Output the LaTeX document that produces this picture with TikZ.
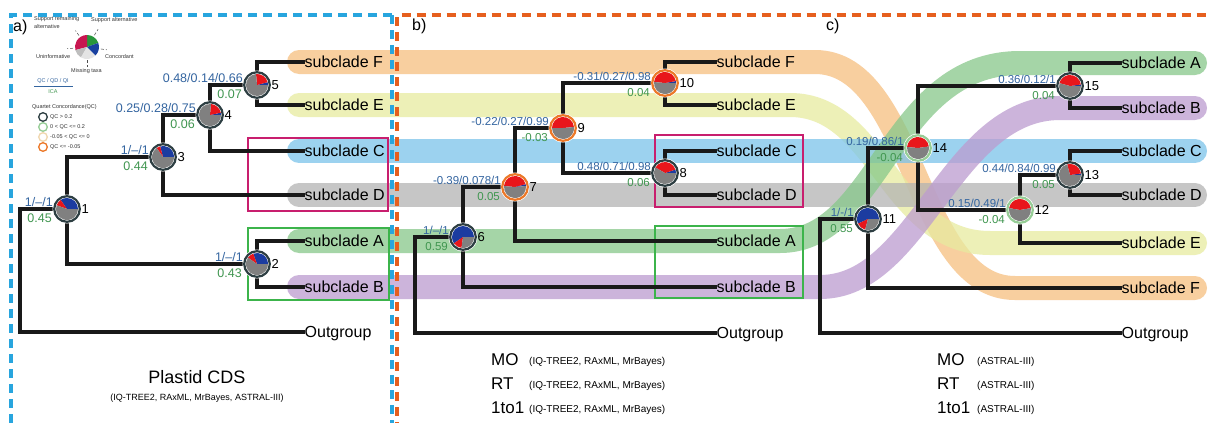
\documentclass[tikz,border=0pt]{standalone}
\usepackage{fontspec}
\setmainfont{Liberation Sans}
\definecolor{bandF}{RGB}{246,191,128}
\definecolor{bandE}{RGB}{231,235,160}
\definecolor{bandC}{RGB}{124,196,234}
\definecolor{bandD}{RGB}{179,179,179}
\definecolor{bandA}{RGB}{135,200,138}
\definecolor{bandB}{RGB}{188,156,207}
\definecolor{lblue}{RGB}{52,101,160}
\definecolor{lgreen}{RGB}{64,150,80}
\definecolor{pred}{RGB}{232,22,27}
\definecolor{pblue}{RGB}{28,60,160}
\definecolor{pgray}{RGB}{128,128,128}
\definecolor{ringdark}{RGB}{45,62,66}
\definecolor{ringgreen}{RGB}{150,205,150}
\definecolor{ringbeige}{RGB}{240,215,175}
\definecolor{ringorange}{RGB}{236,120,40}
\definecolor{boxmag}{RGB}{200,30,110}
\definecolor{boxgreen}{RGB}{60,180,75}
\definecolor{dashblue}{RGB}{40,165,222}
\definecolor{dashorange}{RGB}{230,95,30}
\definecolor{lgcrimson}{RGB}{200,22,80}
\definecolor{lggreen}{RGB}{40,150,60}
\definecolor{lgblue}{RGB}{25,65,160}
\definecolor{lggray}{RGB}{190,190,190}
\definecolor{lglight}{RGB}{228,228,228}
\tikzset{
  br/.style={line width=4pt, line cap=rect, draw=black!90},
  band/.style={line width=24pt, line cap=round, draw opacity=0.75},
  leafnode/.style={anchor=west, inner sep=1.5pt, font=\fontsize{16}{18}\selectfont, text height=11pt, text depth=0pt},
  bdash/.style={line width=3.5pt, dash pattern=on 9pt off 6pt},
  cbox/.style={line width=1.5pt},
  lg/.style={inner sep=0pt, font=\fontsize{5.5}{6}\selectfont, text=black!80},
  lead/.style={densely dashed, line width=0.5pt, draw=black!70},
  bigtxt/.style={anchor=base west, inner sep=0pt, font=\fontsize{17}{19}\selectfont},
  smalltxt/.style={anchor=base west, inner sep=0pt, font=\fontsize{10}{12}\selectfont},
  plab/.style={anchor=west, inner sep=0pt, font=\fontsize{16}{18}\selectfont}
}
\newcommand{\mypie}[3]{%
  \fill[white] (#1) circle (14.5pt);
  \foreach \pa/\pb/\pc in {#3} {\fill[\pc] (#1) -- ++(\pa:11pt) arc[start angle=\pa, end angle=\pb, radius=11pt] -- cycle;}
  \draw[#2, line width=2.2pt] (#1) circle (12.8pt);
}
\newcommand{\nlab}[5]{%
  \node[anchor=base east, text=lblue, font=\fontsize{#5}{#5}\selectfont, inner sep=0pt] (#1b) at ([xshift=-14pt,yshift=3pt]#1) {#2};
  \node[anchor=base east, text=lgreen, font=\fontsize{#5}{#5}\selectfont, inner sep=0pt] (#1g) at ([xshift=-15pt,yshift=-13pt]#1) {#3};
  \node[anchor=west, font=\fontsize{13}{13}\selectfont, inner sep=0pt] (#1n) at ([xshift=14.5pt]#1) {#4};
}
\begin{document}
\begin{tikzpicture}[x=1pt,y=-1pt]
\useasboundingbox (0,0) rectangle (1208,423);
\fill[white] (0,0) rectangle (1208,423);

% ---------- bands ----------
\draw[band, draw=bandF] (299,62) -- (815,62) .. controls (915,62) and (915,288) .. (1015,288) -- (1195,288);
\draw[band, draw=bandE] (299,105) -- (790,105) .. controls (880,105) and (890,243) .. (990,243) -- (1195,243);
\draw[band, draw=bandC] (299,151) -- (1195,151);
\draw[band, draw=bandD] (299,195) -- (1195,195);
\draw[band, draw=bandA] (299,241) -- (780,241) .. controls (880,241) and (890,63) .. (1020,63) -- (1195,63);
\draw[band, draw=bandB] (299,287) -- (820,287) .. controls (920,287) and (950,108) .. (1060,108) -- (1195,108);

% ---------- boxes ----------
\draw[cbox, boxmag] (248,138) rectangle (388,211);
\draw[cbox, boxgreen] (248,228) rectangle (389,300);
\draw[cbox, boxmag] (655,135) rectangle (803,207);
\draw[cbox, boxgreen] (655,226) rectangle (803,298);

% ---------- dashed panel borders ----------
\draw[bdash, dashblue] (392,15) -- (11,15) -- (11,423);
\draw[bdash, dashblue] (392,15) -- (392,423);
\draw[bdash, dashorange, dash phase=7.5pt] (397,423) -- (397,15) -- (1208,15);

% ---------- panel a tree ----------
\coordinate (ra) at (20,209);
\coordinate (n1) at (67,209);
\coordinate (n2) at (257,264);
\coordinate (n3) at (163,157);
\coordinate (n4) at (210,115);
\coordinate (n5) at (257,85);
\node[leafnode] (aF) at (303,62) {subclade F};
\node[leafnode] (aE) at (303,105) {subclade E};
\node[leafnode] (aC) at (303,151) {subclade C};
\node[leafnode] (aD) at (303,195) {subclade D};
\node[leafnode] (aA) at (303,241) {subclade A};
\node[leafnode] (aB) at (303,287) {subclade B};
\node[leafnode] (aO) at (303,332) {Outgroup};
\draw[br] (ra) -- (n1);
\draw[br] (ra) |- (aO.west);
\draw[br] (n1) |- (n3);
\draw[br] (n1) |- (n2);
\draw[br] (n3) |- (n4);
\draw[br] (n3) |- (aD.west);
\draw[br] (n4) |- (n5);
\draw[br] (n4) |- (aC.west);
\draw[br] (n5) |- (aF.west);
\draw[br] (n5) |- (aE.west);
\draw[br] (n2) |- (aA.west);
\draw[br] (n2) |- (aB.west);

% ---------- panel b tree ----------
\coordinate (rb) at (415,237);
\coordinate (n6) at (463,237);
\coordinate (n7) at (515,187);
\coordinate (n9) at (563,128);
\coordinate (n10) at (665,83);
\coordinate (n8) at (665,173);
\node[leafnode] (bF) at (715,62) {subclade F};
\node[leafnode] (bE) at (715,105) {subclade E};
\node[leafnode] (bC) at (715,151) {subclade C};
\node[leafnode] (bD) at (715,195) {subclade D};
\node[leafnode] (bA) at (715,241) {subclade A};
\node[leafnode] (bB) at (715,287) {subclade B};
\node[leafnode] (bO) at (715,333) {Outgroup};
\draw[br] (rb) -- (n6);
\draw[br] (rb) |- (bO.west);
\draw[br] (n6) |- (n7);
\draw[br] (n6) |- (bB.west);
\draw[br] (n7) |- (n9);
\draw[br] (n7) |- (bA.west);
\draw[br] (n9) |- (n10);
\draw[br] (n9) |- (n8);
\draw[br] (n10) |- (bF.west);
\draw[br] (n10) |- (bE.west);
\draw[br] (n8) |- (bC.west);
\draw[br] (n8) |- (bD.west);

% ---------- panel c tree ----------
\coordinate (rc) at (820,219);
\coordinate (n11) at (868,219);
\coordinate (n14) at (918,148);
\coordinate (n15) at (1070,86);
\coordinate (n12) at (1020,210);
\coordinate (n13) at (1070,175);
\node[leafnode] (cA) at (1120,63) {subclade A};
\node[leafnode] (cB) at (1120,108) {subclade B};
\node[leafnode] (cC) at (1120,151) {subclade C};
\node[leafnode] (cD) at (1120,195) {subclade D};
\node[leafnode] (cE) at (1120,243) {subclade E};
\node[leafnode] (cF) at (1120,288) {subclade F};
\node[leafnode] (cO) at (1120,333) {Outgroup};
\draw[br] (rc) -- (n11);
\draw[br] (rc) |- (cO.west);
\draw[br] (n11) |- (n14);
\draw[br] (n11) |- (cF.west);
\draw[br] (n14) |- (n15);
\draw[br] (n14) |- (n12);
\draw[br] (n15) |- (cA.west);
\draw[br] (n15) |- (cB.west);
\draw[br] (n12) |- (n13);
\draw[br] (n12) |- (cE.west);
\draw[br] (n13) |- (cC.west);
\draw[br] (n13) |- (cD.west);

% ---------- pies ----------
\mypie{n1}{ringdark}{0/125/pblue, 125/160/pred, 160/360/pgray}
\mypie{n2}{ringdark}{0/110/pblue, 110/145/pred, 145/360/pgray}
\mypie{n3}{ringdark}{0/105/pblue, 105/125/pred, 125/360/pgray}
\mypie{n4}{ringdark}{0/12/pblue, 12/85/pred, 85/360/pgray}
\mypie{n5}{ringdark}{0/15/pblue, 15/95/pred, 95/360/pgray}
\mypie{n6}{ringdark}{0/215/pblue, 215/262/pred, 262/360/pgray}
\mypie{n7}{ringorange}{5/15/pblue, 15/175/pred, 175/365/pgray}
\mypie{n8}{ringdark}{0/18/pblue, 18/150/pred, 150/360/pgray}
\mypie{n9}{ringorange}{5/180/pred, 180/365/pgray}
\mypie{n10}{ringorange}{0/10/pblue, 10/175/pred, 175/360/pgray}
\mypie{n11}{ringdark}{0/205/pblue, 205/255/pred, 255/360/pgray}
\mypie{n12}{ringgreen}{10/170/pred, 170/370/pgray}
\mypie{n13}{ringdark}{0/8/pblue, 8/105/pred, 105/360/pgray}
\mypie{n14}{ringgreen}{8/175/pred, 175/368/pgray}
\mypie{n15}{ringdark}{0/8/pblue, 8/165/pred, 165/360/pgray}

% ---------- node labels ----------
\nlab{n1}{1/–/1}{0.45}{1}{12.5}
\nlab{n2}{1/–/1}{0.43}{2}{12.5}
\nlab{n3}{1/–/1}{0.44}{3}{12.5}
\nlab{n4}{0.25/0.28/0.75}{0.06}{4}{12.5}
\nlab{n5}{0.48/0.14/0.66}{0.07}{5}{12.5}
\nlab{n6}{1/–/1}{0.59}{6}{11.5}
\nlab{n7}{-0.39/0.078/1}{0.05}{7}{11.5}
\nlab{n8}{0.48/0.71/0.98}{0.06}{8}{11.5}
\nlab{n9}{-0.22/0.27/0.99}{-0.03}{9}{11.5}
\nlab{n10}{-0.31/0.27/0.98}{0.04}{10}{11.5}
\nlab{n11}{1/-/1}{0.55}{11}{11.5}
\nlab{n12}{0.15/0.49/1}{-0.04}{12}{11.5}
\nlab{n13}{0.44/0.84/0.99}{0.05}{13}{11.5}
\nlab{n14}{0.19/0.86/1}{-0.04}{14}{11.5}
\nlab{n15}{0.36/0.12/1}{0.04}{15}{11.5}

% ---------- panel labels ----------
\node[plab] (pa) at (13,27) {a)};
\node[plab] (pb) at (412,26) {b)};
\node[plab] (pc) at (826,26) {c)};

% ---------- legend ----------
\coordinate (lgpie) at (87,47);
\foreach \pa/\pb/\pc in {20/90/lggreen, 90/195/lgcrimson, 195/240/lggray, 240/315/lglight, 315/380/lgblue}
  {\fill[\pc] (lgpie) -- ++(\pa:12pt) arc[start angle=\pa, end angle=\pb, radius=12pt] -- cycle;}
\node[lg, anchor=west] (lgrem) at (34,19) {Support remaining};
\node[lg, anchor=west] (lgrem2) at (34,27) {alternative};
\node[lg, anchor=west] (lgalt) at (91,20) {Support alternative};
\node[lg, anchor=west] (lgunin) at (36,57) {Uninformative};
\node[lg, anchor=west] (lgcon) at (105,57) {Concordant};
\node[lg, anchor=west] (lgmiss) at (71,71) {Missing taxa};
\draw[lead] ([shift={(125:14pt)}]lgpie) -- ([shift={(125:20pt)}]lgpie);
\draw[lead] ([shift={(58:14pt)}]lgpie) -- ([shift={(58:21pt)}]lgpie);
\draw[lead] ([shift={(-8:14pt)}]lgpie) -- ([shift={(-8:20pt)}]lgpie);
\draw[lead] ([shift={(185:14pt)}]lgpie) -- ([shift={(185:20pt)}]lgpie);
\draw[lead] ([shift={(270:13pt)}]lgpie) -- ([shift={(270:20pt)}]lgpie);
\node[lg, text=lblue] (qcq) at (53,81) {QC / QD / QI};
\draw[lblue, line width=0.5pt] (34,86) -- (73,86);
\node[lg, text=lgreen] (ica) at (53,92) {ICA};
\node[lg, anchor=west] (qct) at (32,107) {Quartet Concordance(QC)};
\draw[ringdark, line width=1.3pt] (43,117) circle (4.3pt);
\draw[ringgreen, line width=1.3pt] (43,127) circle (4.3pt);
\draw[ringbeige, line width=1.3pt] (43,137) circle (4.3pt);
\draw[ringorange, line width=1.3pt] (43,147) circle (4.3pt);
\node[lg, anchor=west] (qc1) at (50,117) {QC > 0.2};
\node[lg, anchor=west] (qc2) at (50,127) {0 < QC <= 0.2};
\node[lg, anchor=west] (qc3) at (50,137) {-0.05 < QC <= 0};
\node[lg, anchor=west] (qc4) at (50,147) {QC <= -0.05};

% ---------- bottom captions ----------
\node[font=\fontsize{18}{20}\selectfont, inner sep=0pt] (tA) at (197,377) {Plastid CDS};
\node[font=\fontsize{9}{11}\selectfont, inner sep=0pt] (tA2) at (197,398) {(IQ-TREE2, RAxML, MrBayes, ASTRAL-III)};
\node[bigtxt] (bMO) at (491,365) {MO};
\node[smalltxt] (bMOs) at (529,364) {(IQ-TREE2, RAxML, MrBayes)};
\node[bigtxt] (bRT) at (491,389) {RT};
\node[smalltxt] (bRTs) at (529,388) {(IQ-TREE2, RAxML, MrBayes)};
\node[bigtxt] (b11) at (491,413) {1to1};
\node[smalltxt] (b11s) at (529,412) {(IQ-TREE2, RAxML, MrBayes)};
\node[bigtxt] (cMO) at (937,365) {MO};
\node[smalltxt] (cMOs) at (977,364) {(ASTRAL-III)};
\node[bigtxt] (cRT) at (937,389) {RT};
\node[smalltxt] (cRTs) at (977,388) {(ASTRAL-III)};
\node[bigtxt] (c11) at (937,413) {1to1};
\node[smalltxt] (c11s) at (977,412) {(ASTRAL-III)};
\end{tikzpicture}
\end{document}
